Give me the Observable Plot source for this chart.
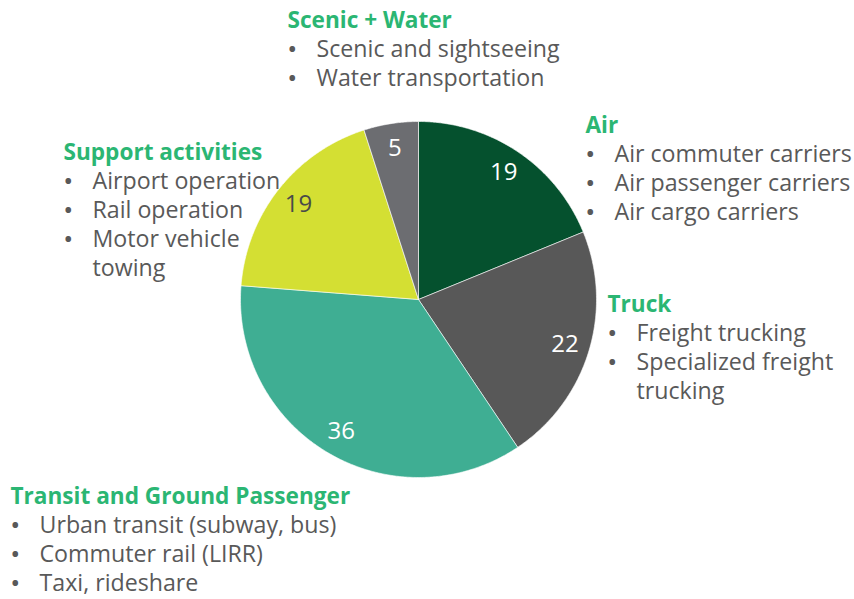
<!DOCTYPE html>
<html><head><meta charset="utf-8">
<script src="https://cdn.jsdelivr.net/npm/d3@7"></script>
<script src="https://cdn.jsdelivr.net/npm/@observablehq/plot@0.6"></script>
<style>body{margin:0;background:#fff;} #chart svg{display:block;}</style>
</head><body><div id="chart"></div>
<script>
// ---- data ----
const categories = ["Air", "Truck", "Transit and Ground Passenger", "Support activities", "Scenic + Water"];
const values = [19, 22, 36, 19, 5];
const items = [
  ["Air commuter carriers", "Air passenger carriers", "Air cargo carriers"],
  ["Freight trucking", "Specialized freight\ntrucking"],
  ["Urban transit (subway, bus)", "Commuter rail (LIRR)", "Taxi, rideshare"],
  ["Airport operation", "Rail operation", "Motor vehicle\ntowing"],
  ["Scenic and sightseeing", "Water transportation"]
];

// ---- styles / layout ----
const sliceColors = ["#05512e", "#585858", "#3fae93", "#d4df33", "#6c6d71"];
const valueTextColors = ["#ffffff", "#ffffff", "#ffffff", "#4a4a4a", "#ffffff"];
const titleColor = "#2bb673";
const itemColor = "#595959";
const FONT = "'Open Sans', sans-serif";
const W = 854, H = 599;
const cx = 418, cy = 299, R = 178;          // pie centre & radius in px
const labelPos = [[585, 125], [607, 304], [10, 496], [63, 152], [287, 20]]; // title left x, centre y
const lineStep = 29, bulletDx = 1, textDx = 29;

// ---- derived ----
const rows = categories.map((c, i) => ({cat: c, value: values[i], color: sliceColors[i], tcolor: valueTextColors[i]}));
const arcs = d3.pie().sort(null).value(d => d.value)(rows);
const slicePts = [];
arcs.forEach(a => {
  slicePts.push({cat: a.data.cat, x: 0, y: 0});
  const n = Math.max(2, Math.ceil((a.endAngle - a.startAngle) / (Math.PI / 360)));
  for (let k = 0; k <= n; k++) {
    const t = a.startAngle + (a.endAngle - a.startAngle) * k / n;
    slicePts.push({cat: a.data.cat, x: Math.sin(t), y: Math.cos(t)});
  }
  slicePts.push({cat: a.data.cat, x: 0, y: 0});
});
const valueLabels = arcs.map(a => {
  const m = (a.startAngle + a.endAngle) / 2;
  return {x: 0.86 * Math.sin(m), y: 0.86 * Math.cos(m), text: String(a.data.value), tcolor: a.data.tcolor};
});

// annotation lines
const titles = [], bulletsT = [], lines = [];
categories.forEach((c, i) => {
  const [lx, ly] = labelPos[i];
  titles.push({text: c, px: lx, py: ly});
  let row = 1;
  items[i].forEach(it => {
    bulletsT.push({text: "•", px: lx + bulletDx, py: ly + row * lineStep});
    it.split("\n").forEach(part => {
      lines.push({text: part, px: lx + textDx, py: ly + row * lineStep});
      row++;
    });
  });
});

const textMark = (data, opts) => data.map(d => Plot.text([d], {
  frameAnchor: "top-left", dx: d.px, dy: d.py, text: "text",
  textAnchor: "start", lineAnchor: "middle", fontFamily: FONT, ...opts
}));

const chart = Plot.plot({
  width: W, height: H,
  margin: 0,
  x: {domain: [-cx / R, (W - cx) / R], axis: null},
  y: {domain: [-(H - cy) / R, cy / R], axis: null},
  color: {domain: categories, range: sliceColors},
  style: {background: "#fff", fontFamily: FONT},
  marks: [
    Plot.line(slicePts, {x: "x", y: "y", z: "cat", fill: "cat", stroke: "#ffffff", strokeWidth: 0.6, curve: "linear"}),
    Plot.text(valueLabels.filter(d => d.tcolor === "#ffffff"), {x: "x", y: "y", text: "text", fill: "#ffffff", fontSize: 24, fontFamily: FONT}),
    Plot.text(valueLabels.filter(d => d.tcolor !== "#ffffff"), {x: "x", y: "y", text: "text", fill: "#4a4a4a", fontSize: 24, fontFamily: FONT}),
    ...textMark(titles, {fill: titleColor, fontWeight: "bold", fontSize: 22.6}),
    ...textMark(bulletsT, {fill: itemColor, fontSize: 20, fontWeight: "bold"}),
    ...textMark(lines, {fill: itemColor, fontSize: 23.2})
  ]
});
document.getElementById("chart").append(chart);
</script>
</body></html>
